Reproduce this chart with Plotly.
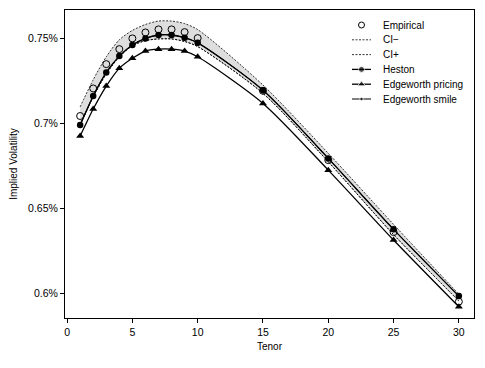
import plotly.graph_objects as go

tenor = [1, 2, 3, 4, 5, 6, 7, 8, 9, 10, 15, 20, 25, 30]
empirical = [0.7042, 0.7204, 0.7347, 0.7435, 0.7498, 0.7533, 0.7551, 0.7551, 0.7535, 0.7500, 0.7190, 0.6783, 0.6360, 0.5951]
ci_minus = [0.6990, 0.7155, 0.7290, 0.7390, 0.7455, 0.7485, 0.7495, 0.7495, 0.7480, 0.7450, 0.7175, 0.6773, 0.6345, 0.5955]
ci_plus = [0.7096, 0.7255, 0.7390, 0.7490, 0.7545, 0.7580, 0.7600, 0.7600, 0.7585, 0.7550, 0.7224, 0.6823, 0.6405, 0.5995]
heston = [0.6989, 0.7159, 0.7298, 0.7394, 0.7459, 0.7498, 0.7518, 0.7518, 0.7502, 0.7472, 0.7194, 0.6793, 0.6376, 0.5984]
edge_pricing = [0.6924, 0.7083, 0.7218, 0.7322, 0.7381, 0.7424, 0.7435, 0.7435, 0.7424, 0.7390, 0.7116, 0.6724, 0.6313, 0.5921]
edge_smile = [0.6989, 0.7159, 0.7298, 0.7394, 0.7459, 0.7498, 0.7518, 0.7518, 0.7502, 0.7472, 0.7194, 0.6793, 0.6376, 0.5984]

y_ticks = [0.60, 0.65, 0.70, 0.75]
y_tick_labels = ["0.6%", "0.65%", "0.7%", "0.75%"]
x_ticks = [0, 5, 10, 15, 20, 25, 30]

legend_names = ["Empirical", "CI\u2212", "CI+", "Heston", "Edgeworth pricing", "Edgeworth smile"]

FONT = "Liberation Sans, Arial, Helvetica, sans-serif"
DASH = "2px,1.5px"
SM = 0.75

fig = go.Figure()

fig.add_trace(go.Scatter(x=tenor, y=ci_minus, mode="lines",
                         line=dict(color="black", width=0.8, dash=DASH, shape="spline", smoothing=SM),
                         showlegend=False))
fig.add_trace(go.Scatter(x=tenor, y=ci_plus, mode="lines", fill="tonexty",
                         fillcolor="rgb(222,222,222)",
                         line=dict(color="black", width=0.8, dash=DASH, shape="spline", smoothing=SM),
                         showlegend=False))
fig.add_trace(go.Scatter(x=tenor, y=ci_minus, mode="lines",
                         line=dict(color="black", width=0.8, dash=DASH, shape="spline", smoothing=SM),
                         showlegend=False))
fig.add_trace(go.Scatter(x=tenor, y=edge_pricing, mode="lines+markers",
                         line=dict(color="black", width=1.3, shape="spline", smoothing=SM),
                         marker=dict(symbol="triangle-up", size=7, color="black"),
                         showlegend=False))
fig.add_trace(go.Scatter(x=tenor, y=heston, mode="lines+markers",
                         line=dict(color="black", width=1.3, shape="spline", smoothing=SM),
                         marker=dict(symbol="circle", size=6.5, color="black"),
                         showlegend=False))
fig.add_trace(go.Scatter(x=tenor, y=edge_smile, mode="lines+markers",
                         line=dict(color="black", width=1, shape="spline", smoothing=SM),
                         marker=dict(symbol="circle", size=3.5, color="black"),
                         showlegend=False))
fig.add_trace(go.Scatter(x=tenor, y=empirical, mode="markers",
                         marker=dict(symbol="circle-open", size=7, color="black",
                                     line=dict(width=1, color="black")),
                         showlegend=False))

# Manual legend on a pixel-scaled overlay axis (screen pixel coordinates)
rows = [25, 39.8, 54.6, 69.4, 84.2, 99]
lx0, lx1, lm, ltext = 352, 371, 361.5, 381
styles = [
    dict(mode="markers", marker=dict(symbol="circle-open", size=6, color="black", line=dict(width=1))),
    dict(mode="lines", line=dict(color="black", width=0.8, dash=DASH)),
    dict(mode="lines", line=dict(color="black", width=0.8, dash=DASH)),
    dict(mode="lines+markers", line=dict(color="black", width=1.3), marker=dict(symbol="circle", size=6, color="black")),
    dict(mode="lines+markers", line=dict(color="black", width=1.3), marker=dict(symbol="triangle-up", size=7, color="black")),
    dict(mode="lines+markers", line=dict(color="black", width=1), marker=dict(symbol="circle", size=3.5, color="black")),
]
for name, ry, st in zip(legend_names, rows, styles):
    if st["mode"] == "markers":
        xs, ys = [lm], [ry]
    elif st["mode"] == "lines":
        xs, ys = [lx0, lx1], [ry, ry]
    else:
        xs, ys = [lx0, lm, lx1], [ry, ry, ry]
        st = dict(st)
        st["marker"] = dict(st["marker"])
        st["marker"]["size"] = [0, st["marker"]["size"], 0]
    fig.add_trace(go.Scatter(x=xs, y=ys, xaxis="x2", yaxis="y2", showlegend=False,
                             hoverinfo="skip", cliponaxis=False, **st))
    fig.add_annotation(x=ltext, y=ry, xref="x2", yref="y2", text=name, showarrow=False,
                       xanchor="left", yanchor="middle", font=dict(size=10, color="black", family=FONT))

# The page body adds an 8px offset; the figure is sized to compensate.
fig.update_layout(
    width=477, height=360,
    margin=dict(l=57, r=11, t=2, b=50),
    paper_bgcolor="white", plot_bgcolor="white",
    font=dict(family=FONT, size=10, color="black"),
    xaxis=dict(range=[-0.16, 31.16], tickvals=x_ticks, ticks="outside", ticklen=4,
               tickwidth=1, tickcolor="black", showline=True, linecolor="black", linewidth=1,
               mirror=True, showgrid=False, zeroline=False, automargin=False,
               tickfont=dict(size=10.5, family=FONT, color="black"),
               title=dict(text="Tenor", font=dict(size=10, family=FONT), standoff=6)),
    yaxis=dict(range=[0.5855, 0.7665], tickvals=y_ticks, ticktext=y_tick_labels, ticks="outside",
               ticklen=4, tickwidth=1, tickcolor="black", showline=True, linecolor="black",
               linewidth=1, mirror=True, showgrid=False, zeroline=False, automargin=False,
               tickfont=dict(size=10.5, family=FONT, color="black"),
               title=dict(text="Implied Volatility", font=dict(size=10, family=FONT), standoff=8)),
    xaxis2=dict(overlaying="x", range=[65, 474], visible=False, automargin=False),
    yaxis2=dict(overlaying="y", range=[318, 10], visible=False, automargin=False),
)

fig.write_html("out.html")
